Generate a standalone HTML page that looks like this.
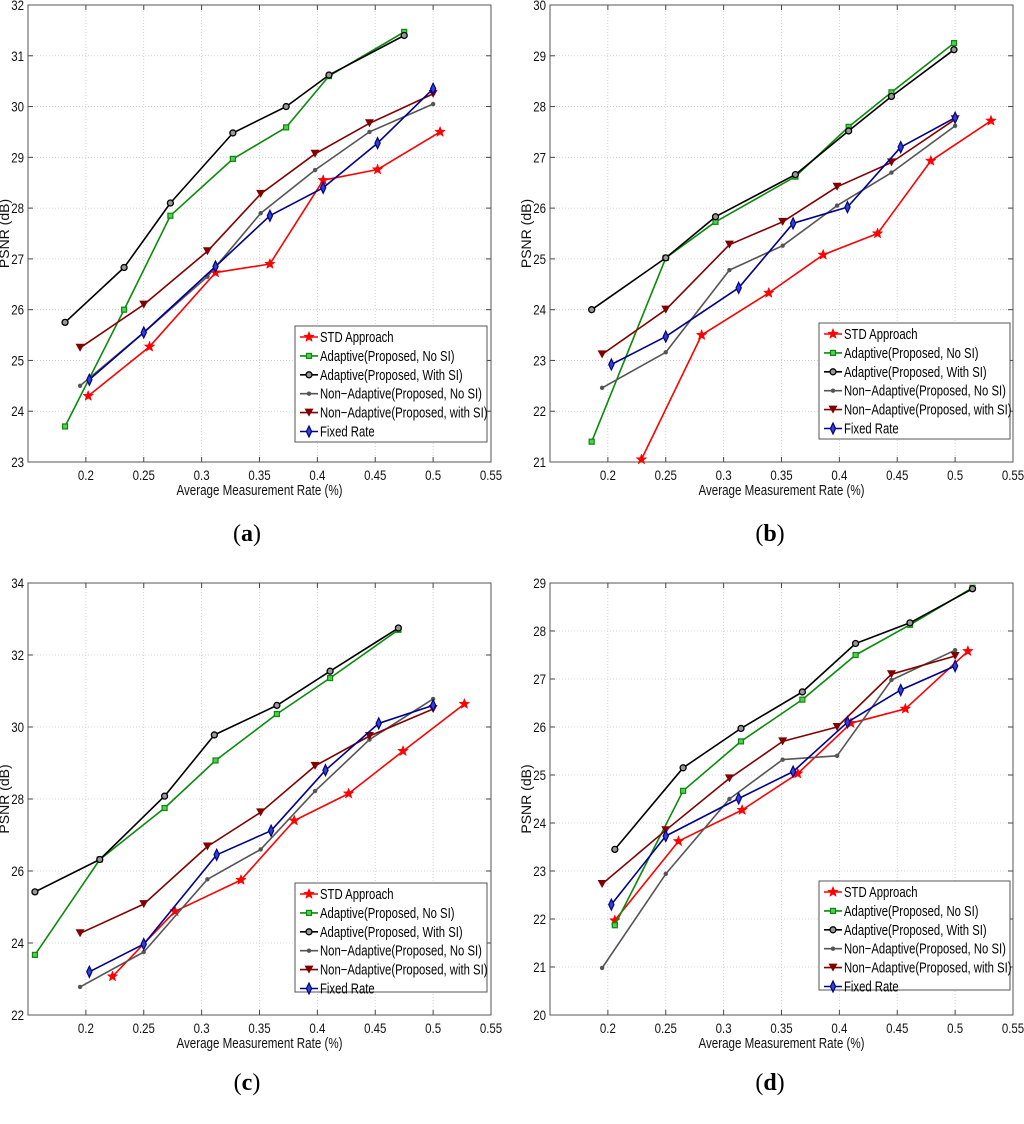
<!DOCTYPE html>
<html><head><meta charset="utf-8">
<style>
html,body{margin:0;padding:0;background:#fff;}
svg{display:block;}
text{font-family:"Liberation Sans",sans-serif;}
</style></head>
<body>
<svg id="fig" width="1024" height="1124" viewBox="0 0 1024 1124" xmlns="http://www.w3.org/2000/svg"></svg>
<script>
// ---- Data ----
const seriesNames = ["STD Approach","Adaptive(Proposed, No SI)","Adaptive(Proposed, With SI)","Non\u2212Adaptive(Proposed, No SI)","Non\u2212Adaptive(Proposed, with SI)","Fixed Rate"];
const xTicks = [0.2,0.25,0.3,0.35,0.4,0.45,0.5,0.55];
const xTickLabels = ["0.2","0.25","0.3","0.35","0.4","0.45","0.5","0.55"];

// panel (a)
const aYTicks = [23,24,25,26,27,28,29,30,31,32];
const aStdX = [0.202,0.255,0.312,0.359,0.405,0.452,0.506];
const aStdY = [24.3,25.27,26.73,26.9,28.55,28.76,29.5];
const aAdNoX = [0.182,0.233,0.273,0.327,0.373,0.41,0.475];
const aAdNoY = [23.7,26.0,27.85,28.97,29.59,30.6,31.47];
const aAdSiX = [0.182,0.233,0.273,0.327,0.373,0.41,0.475];
const aAdSiY = [25.75,26.83,28.1,29.48,30.0,30.62,31.4];
const aNaNoX = [0.195,0.25,0.305,0.351,0.398,0.445,0.5];
const aNaNoY = [24.5,25.55,26.65,27.9,28.75,29.5,30.05];
const aNaSiX = [0.195,0.25,0.305,0.351,0.398,0.445,0.5];
const aNaSiY = [25.25,26.1,27.15,28.28,29.07,29.67,30.25];
const aFixX = [0.203,0.25,0.312,0.359,0.405,0.452,0.5];
const aFixY = [24.62,25.55,26.85,27.85,28.4,29.28,30.35];

// panel (b)
const bYTicks = [21,22,23,24,25,26,27,28,29,30];
const bStdX = [0.229,0.281,0.339,0.386,0.433,0.479,0.531];
const bStdY = [21.05,23.5,24.33,25.08,25.5,26.93,27.72];
const bAdNoX = [0.186,0.25,0.293,0.362,0.408,0.445,0.499];
const bAdNoY = [21.4,25.02,25.73,26.62,27.6,28.28,29.25];
const bAdSiX = [0.186,0.25,0.293,0.362,0.408,0.445,0.499];
const bAdSiY = [24.0,25.02,25.83,26.66,27.52,28.2,29.12];
const bNaNoX = [0.195,0.25,0.305,0.351,0.398,0.445,0.5];
const bNaNoY = [22.46,23.16,24.78,25.26,26.05,26.7,27.62];
const bNaSiX = [0.195,0.25,0.305,0.351,0.398,0.445,0.5];
const bNaSiY = [23.12,24.0,25.28,25.73,26.42,26.9,27.75];
const bFixX = [0.203,0.25,0.313,0.36,0.407,0.453,0.5];
const bFixY = [22.92,23.47,24.43,25.7,26.02,27.2,27.78];

// panel (c)
const cYTicks = [22,24,26,28,30,32,34];
const cStdX = [0.223,0.277,0.334,0.38,0.427,0.474,0.527];
const cStdY = [23.07,24.88,25.75,27.4,28.15,29.33,30.64];
const cAdNoX = [0.156,0.212,0.268,0.312,0.365,0.411,0.47];
const cAdNoY = [23.67,26.32,27.75,29.07,30.36,31.36,32.7];
const cAdSiX = [0.156,0.212,0.268,0.311,0.365,0.411,0.47];
const cAdSiY = [25.42,26.32,28.08,29.78,30.6,31.55,32.75];
const cNaNoX = [0.195,0.25,0.305,0.351,0.398,0.445,0.5];
const cNaNoY = [22.78,23.75,25.77,26.6,28.22,29.65,30.78];
const cNaSiX = [0.195,0.25,0.305,0.351,0.398,0.445,0.5];
const cNaSiY = [24.27,25.08,26.68,27.63,28.92,29.75,30.5];
const cFixX = [0.203,0.25,0.313,0.36,0.407,0.453,0.5];
const cFixY = [23.2,23.97,26.45,27.12,28.8,30.1,30.6];

// panel (d)
const dYTicks = [20,21,22,23,24,25,26,27,28,29];
const dStdX = [0.206,0.261,0.316,0.364,0.41,0.457,0.511];
const dStdY = [21.97,23.62,24.27,25.03,26.08,26.38,27.58];
const dAdNoX = [0.206,0.265,0.315,0.368,0.414,0.461,0.515];
const dAdNoY = [21.87,24.67,25.7,26.57,27.5,28.13,28.9];
const dAdSiX = [0.206,0.265,0.315,0.368,0.414,0.461,0.515];
const dAdSiY = [23.45,25.15,25.97,26.73,27.74,28.17,28.88];
const dNaNoX = [0.195,0.25,0.305,0.351,0.398,0.445,0.5];
const dNaNoY = [20.98,22.94,24.5,25.32,25.4,26.98,27.6];
const dNaSiX = [0.195,0.25,0.305,0.351,0.398,0.445,0.5];
const dNaSiY = [22.73,23.85,24.93,25.7,26.0,27.1,27.48];
const dFixX = [0.203,0.25,0.313,0.36,0.407,0.453,0.5];
const dFixY = [22.3,23.73,24.51,25.07,26.1,26.77,27.27];

// ---- Rendering ----
const NS = "http://www.w3.org/2000/svg";
const svg = document.getElementById('fig');
const colors = ["#ff0000","#0a8a0a","#000000","#555555","#800000","#00008b"];
const markers = ["star","square","circle","dot","tri","diamond"];
const keys = ["std","adaptive-no-si","adaptive-with-si","non-adaptive-no-si","non-adaptive-with-si","fixed-rate"];

function mk(tag, attrs, parent){
  const e = document.createElementNS(NS, tag);
  for (const k in attrs) e.setAttribute(k, attrs[k]);
  (parent||svg).appendChild(e);
  return e;
}
function squeeze(t, f){
  const w = t.getComputedTextLength();
  if (w > 0){
    t.setAttribute('textLength', (w*f).toFixed(1));
    t.setAttribute('lengthAdjust', 'spacingAndGlyphs');
  }
}
function marker(g, type, cx, cy, col){
  let m;
  if (type==="star"){
    let pts=[];
    for(let i=0;i<10;i++){const r=i%2?2.3:5.5;const a=-Math.PI/2+i*Math.PI/5;pts.push((cx+r*Math.cos(a)).toFixed(1)+","+(cy+r*Math.sin(a)).toFixed(1));}
    m = mk('polygon',{points:pts.join(' '),fill:col,stroke:col,'stroke-width':0.5},g);
  } else if (type==="square"){
    m = mk('rect',{x:cx-2.5,y:cy-2.5,width:5,height:5,fill:"#5c5",stroke:col,'stroke-width':1.2},g);
  } else if (type==="circle"){
    m = mk('circle',{cx:cx,cy:cy,r:3,fill:"#999",stroke:col,'stroke-width':1.3},g);
  } else if (type==="dot"){
    m = mk('circle',{cx:cx,cy:cy,r:2.2,fill:col},g);
  } else if (type==="tri"){
    m = mk('polygon',{points:`${cx-4.5},${cy-4} ${cx+4.5},${cy-4} ${cx},${cy+4}`,fill:col},g);
  } else {
    m = mk('polygon',{points:`${cx},${cy-5.5} ${cx+2.6},${cy} ${cx},${cy+5.5} ${cx-2.6},${cy}`,fill:"#3344cc",stroke:col,'stroke-width':1.2},g);
  }
  return m;
}

function panel(id, L, T, R, B, yTicks, xs, ys, lg, caption, capX, capY){
  const g = mk('g',{});
  
  
  const x0=0.15, x1=0.55, y0=yTicks[0], y1=yTicks[yTicks.length-1];
  const sx = v => L + (v-x0)/(x1-x0)*(R-L);
  const sy = v => B - (v-y0)/(y1-y0)*(B-T);
  xTicks.forEach((t,i)=>{
    const X=sx(t);
    if (i<xTicks.length-1){
      const gl=mk('line',{x1:X,y1:T,x2:X,y2:B,stroke:"#c8c8c8",'stroke-width':0.8,'stroke-dasharray':"1,2"},g);
      
      
    }
    mk('line',{x1:X,y1:B,x2:X,y2:B-5,stroke:"#444",'stroke-width':1},g);
    mk('line',{x1:X,y1:T,x2:X,y2:T+5,stroke:"#444",'stroke-width':1},g);
    const tl=mk('text',{x:X,y:B+18,'font-size':13.5,'text-anchor':'middle',fill:"#111"},g);
    tl.textContent=xTickLabels[i];
    
    
    squeeze(tl,0.85);
  });
  yTicks.forEach((t,i)=>{
    const Y=sy(t);
    if (i>0 && i<yTicks.length-1){
      const gl=mk('line',{x1:L,y1:Y,x2:R,y2:Y,stroke:"#c8c8c8",'stroke-width':0.8,'stroke-dasharray':"1,2"},g);
      
      
    }
    mk('line',{x1:L,y1:Y,x2:L+5,y2:Y,stroke:"#444",'stroke-width':1},g);
    mk('line',{x1:R,y1:Y,x2:R-5,y2:Y,stroke:"#444",'stroke-width':1},g);
    const tl=mk('text',{x:L-4,y:Y+5,'font-size':13.5,'text-anchor':'end',fill:"#111"},g);
    tl.textContent=String(t);
    
    
    squeeze(tl,0.85);
  });
  const fr=mk('rect',{x:L,y:T,width:R-L,height:B-T,fill:'none',stroke:"#555",'stroke-width':1},g);
  
  
  const xl=mk('text',{x:(L+R)/2,y:B+33,'font-size':14.5,'text-anchor':'middle',fill:"#111"},g);
  xl.textContent="Average Measurement Rate (%)";
  
  
  squeeze(xl,0.8);
  const yx=L-19, yy=(T+B)/2;
  const yl=mk('text',{x:yx,y:yy,'font-size':14,'text-anchor':'middle',fill:"#111",transform:`rotate(-90 ${yx} ${yy})`},g);
  yl.textContent="PSNR (dB)";
  
  
  for (let s=0;s<6;s++){
    const sg=mk('g',{},g);
    
    
    const pts=xs[s].map((v,i)=>sx(v).toFixed(1)+","+sy(ys[s][i]).toFixed(1)).join(' ');
    const pl=mk('polyline',{points:pts,fill:'none',stroke:colors[s],'stroke-width':1.6,'stroke-linejoin':'round'},sg);
    
    
    xs[s].forEach((v,i)=>{
      const m=marker(sg,markers[s],sx(v),sy(ys[s][i]),colors[s]);
      
      
    });
  }
  const lgG=mk('g',{},g);
  
  
  mk('rect',{x:lg[0],y:lg[1],width:lg[2],height:lg[3],fill:'#fff',stroke:'#555','stroke-width':1},lgG);
  for (let s=0;s<6;s++){
    const cy=lg[1]+11+s*18.9;
    const eg=mk('g',{},lgG);
    
    
    mk('line',{x1:lg[0]+5,y1:cy,x2:lg[0]+23,y2:cy,stroke:colors[s],'stroke-width':1.6},eg);
    marker(eg,markers[s],lg[0]+14,cy,colors[s]);
    const t=mk('text',{x:lg[0]+25,y:cy+5,'font-size':14.5,fill:"#000"},eg);
    t.textContent=seriesNames[s];
    squeeze(t,0.78);
  }
  const cap=mk('text',{x:capX,y:capY,'font-size':24,'text-anchor':'middle',fill:'#000',style:'font-family:"Liberation Serif",serif'},g);
  
  
  const t1=mk('tspan',{},cap); t1.textContent="(";
  const t2=mk('tspan',{'font-weight':'bold'},cap); t2.textContent=caption;
  const t3=mk('tspan',{},cap); t3.textContent=")";
}

panel('a',28,5,491,462,aYTicks,[aStdX,aAdNoX,aAdSiX,aNaNoX,aNaSiX,aFixX],[aStdY,aAdNoY,aAdSiY,aNaNoY,aNaSiY,aFixY],[295,326,192,116],'a',247,541);
panel('b',550,5,1013,462,bYTicks,[bStdX,bAdNoX,bAdSiX,bNaNoX,bNaSiX,bFixX],[bStdY,bAdNoY,bAdSiY,bNaNoY,bNaSiY,bFixY],[819,323,191,116],'b',770,541);
panel('c',28,583,491,1015,cYTicks,[cStdX,cAdNoX,cAdSiX,cNaNoX,cNaSiX,cFixX],[cStdY,cAdNoY,cAdSiY,cNaNoY,cNaSiY,cFixY],[295,883,192,109],'c',247,1090);
panel('d',550,583,1013,1015,dYTicks,[dStdX,dAdNoX,dAdSiX,dNaNoX,dNaSiX,dFixX],[dStdY,dAdNoY,dAdSiY,dNaNoY,dNaSiY,dFixY],[819,881,191,109],'d',770,1090);
</script>
</body></html>
